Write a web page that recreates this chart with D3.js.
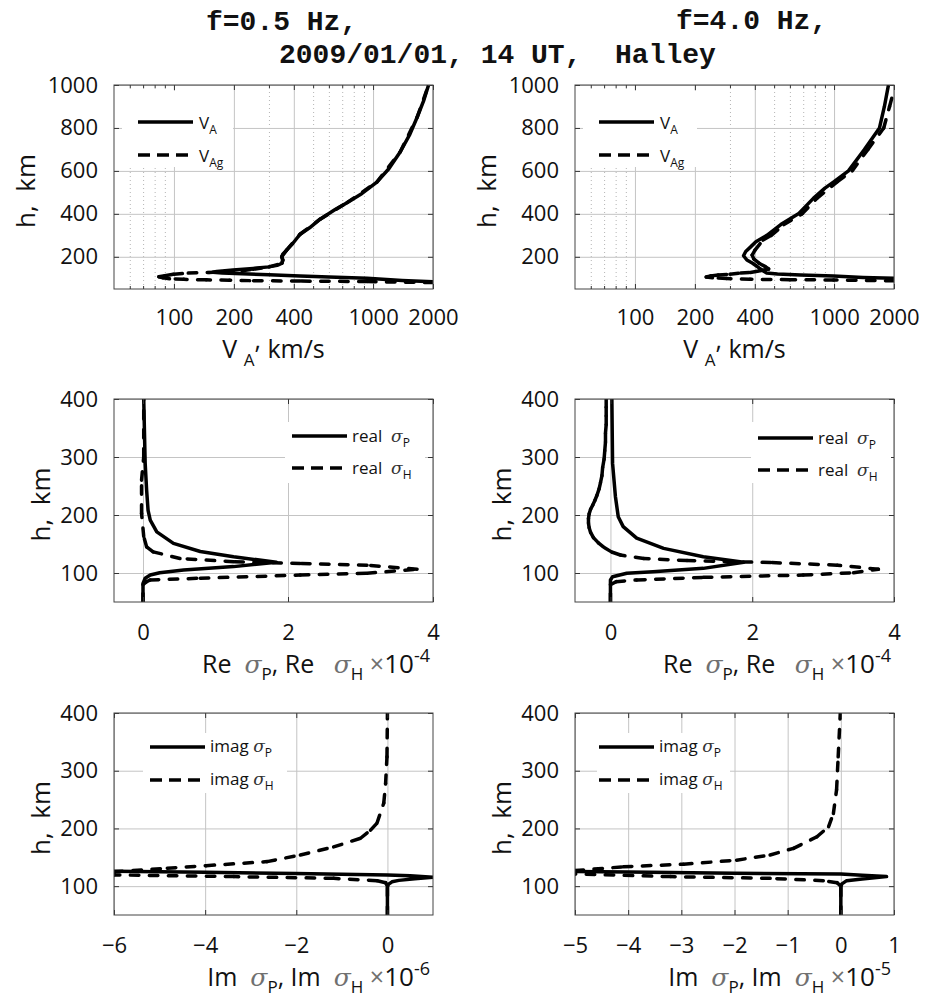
<!DOCTYPE html>
<html>
<head>
<meta charset="utf-8">
<script src="https://cdn.jsdelivr.net/npm/d3@7"></script>
<style>
body { margin: 0; background: #fff; }
svg text { font-family: "Open Sans", sans-serif; fill: #111; white-space: pre; }
.sig { font-family: "DejaVu Serif", serif; font-style: italic; }
</style>
</head>
<body>
<script>
// profiles as [value, h in km]
// top row: Alfven velocity, km/s
var vA_05  = [[2000,84],[1400,90],[934,100],[600,106],[430,110],[300,116],[220,121],[175,124],[157,128],[164,132],[198,138],[250,146],[300,153],[330,160],[349,170],[352,185],[348,200],[352,212],[368,231],[395,262],[430,305],[480,335],[542,375],[645,420],[740,452],[880,495],[1045,548],[1200,610],[1368,688],[1530,770],[1667,851],[1800,930],[1900,1000]];
var vAg_05 = [[2000,80],[934,84.5],[430,87],[240,89],[190,91],[145,92.5],[112,95],[95,98],[88,102],[84,107],[90,112],[100,119],[118,124],[150,127],[180,130],[220,135],[250,142],[300,153],[349,170],[352,185],[348,200],[368,231],[430,305],[542,375],[740,452],[1045,548],[1368,688],[1667,851],[1900,1000]];
var vA_4   = [[2000,100],[1400,104],[994,110],[680,115],[520,120],[459,124],[440,135],[420,148],[390,170],[365,185],[351,205],[360,225],[380,245],[405,270],[460,300],[540,350],[662,400],[787,472],[900,520],[1000,550],[1181,600],[1420,700],[1691,800],[1790,900],[1876,1000]];
var vAg_4  = [[2000,88],[994,92],[600,93.5],[378,95],[289,99],[245,102],[228,106],[240,111],[262,115],[300,119],[340,124],[380,127],[425,135],[470,143],[450,155],[420,170],[395,190],[388,208],[400,230],[440,278],[484,300],[560,350],[691,400],[820,472],[1040,550],[1233,600],[1480,700],[1776,800],[1900,900],[2000,977]];

// middle row: real parts, x1e-4
var reSP_05 = [[0,50],[0,82],[0.03,91],[0.1,96.5],[0.23,100.5],[0.56,105],[1.25,111],[1.84,118.5],[1.25,128],[0.79,137],[0.42,151],[0.19,171],[0.1,191],[0.07,208],[0.05,243],[0.03,289],[0.01,400]];
var reSH_05 = [[0,50],[0,80],[0.05,85],[0.1,88],[0.79,91],[2.17,96.5],[3.09,99.5],[3.78,106.5],[3.09,113.5],[2.17,116.5],[1.25,119.5],[0.51,125],[0.14,136.5],[0.05,145],[0.01,163],[-0.02,203],[-0.02,260],[0.01,300],[0.01,400]];
var reSP_4  = [[0,50],[0,88],[0.03,93.5],[0.23,99.5],[0.6,102],[1.31,108],[1.88,118.5],[1.31,128],[0.75,142.5],[0.37,160],[0.18,180],[0.11,197],[0.07,232],[0.03,289],[0.02,400]];
var reSH_4  = [[0,50],[0,80],[0.08,85],[0.37,88],[1.31,92.5],[2.72,96.5],[3.43,100.5],[3.78,106.5],[3.2,113.5],[2.26,118],[1.08,121.5],[0.47,125],[0.14,131],[0.02,136],[-0.1,145],[-0.17,152],[-0.24,161],[-0.28,170],[-0.3,178],[-0.31,186],[-0.31,194],[-0.3,202],[-0.28,210],[-0.25,217],[-0.22,225],[-0.19,234],[-0.16,245],[-0.14,256],[-0.12,268],[-0.11,282],[-0.09,296],[-0.08,311],[-0.07,326],[-0.07,341],[-0.06,356],[-0.06,371],[-0.06,386],[-0.06,400]];

// bottom row: imaginary parts, x1e-6 (f=0.5) and x1e-5 (f=4.0)
var imSP_05 = [[0,50],[0,98],[0.02,103],[0.1,107.5],[0.25,110],[0.6,113],[1.0,115.5],[0.5,117.8],[0,119.5],[-2,122],[-4,124],[-6,126]];
var imSH_05 = [[0,50],[0,100],[-0.04,106],[-0.23,109.5],[-1.18,113.5],[-3.37,116.5],[-6,119.5],[-6,125],[-4.83,131],[-3.98,135.5],[-2.64,142.5],[-1.91,154],[-1.18,168],[-0.59,183],[-0.37,197],[-0.23,209],[-0.08,244],[-0.04,278],[-0.01,324],[0,400]];
var imSP_4  = [[0,50],[0,99],[0.02,104],[0.11,109.5],[0.4,112.5],[0.86,116.5],[0.4,119],[0,121],[-2,122.5],[-4,124.5],[-5,125.5]];
var imSH_4  = [[0,50],[0,100],[-0.07,106],[-0.33,109.5],[-1.33,113.5],[-3.2,116.5],[-5,121],[-5,127],[-4.09,133.5],[-2.96,138],[-1.96,145],[-1.33,154],[-0.89,165.5],[-0.45,185.5],[-0.23,203],[-0.14,226],[-0.08,267],[-0.05,324],[-0.01,400]];

// ticks and texts
var vTicks   = [100, 200, 400, 1000, 2000];
var vMinor   = [60, 70, 80, 90, 300, 500, 600, 700, 800, 900];
var hTicksV  = [200, 400, 600, 800, 1000];
var hTicks   = [100, 200, 300, 400];
var reTicks  = [0, 2, 4];
var imTicks05 = [-6, -4, -2, 0];
var imTicks4  = [-5, -4, -3, -2, -1, 0, 1];
var titleLeft  = "f=0.5 Hz,";
var titleRight = "f=4.0 Hz,";
var titleDate  = "2009/01/01, 14 UT,  Halley";

var svg = d3.select("body").append("svg").attr("width", 926).attr("height", 1000);

var colX = [[114, 433], [575, 894]];
var rowY = [[85, 289], [399, 602], [713, 915]];

var legV  = [{main: "V", sub: "A"}, {main: "V", sub: "Ag"}];
var legRe = [{main: "real  ", sig: 1, sub: "P"}, {main: "real  ", sig: 1, sub: "H"}];
var legIm = [{main: "imag ", sig: 1, sub: "P"}, {main: "imag ", sig: 1, sub: "H"}];

var panels = [
  {c: 0, r: 0, x: d3.scaleLog().domain([50, 2000]), yd: [50, 1000], xt: vTicks, yt: hTicksV, minor: vMinor,
   s: [vA_05, vAg_05], leg: legV, box: [8, 6, 111, 76], lx: [24, 79], ly: [37, 70], tx: 85, tdy: 7, lab: "v"},
  {c: 1, r: 0, x: d3.scaleLog().domain([50, 2000]), yd: [50, 1000], xt: vTicks, yt: hTicksV, minor: vMinor,
   s: [vA_4, vAg_4], leg: legV, box: [8, 6, 114, 76], lx: [24, 79], ly: [37, 70], tx: 85, tdy: 7, lab: "v"},
  {c: 0, r: 1, x: d3.scaleLinear().domain([-0.4, 4]), yd: [50, 400], xt: reTicks, yt: hTicks,
   s: [reSP_05, reSH_05], leg: legRe, box: [171, 23, 140, 61], lx: [178, 233], ly: [37, 69], tx: 238, tdy: 6, lab: "Re", gap: "   ", ex: "-4"},
  {c: 1, r: 1, x: d3.scaleLinear().domain([-0.5, 4]), yd: [50, 400], xt: reTicks, yt: hTicks,
   s: [reSP_4, reSH_4], leg: legRe, box: [176, 23, 140, 61], lx: [183, 238], ly: [39, 71], tx: 243, tdy: 6, lab: "Re", gap: "   ", ex: "-4"},
  {c: 0, r: 2, x: d3.scaleLinear().domain([-6, 1]), yd: [50, 400], xt: imTicks05, yt: hTicks,
   s: [imSP_05, imSH_05], leg: legIm, box: [29, 20, 144, 60], lx: [36, 91], ly: [34, 67], tx: 96, tdy: 5, lab: "Im", gap: "  ", ex: "-6"},
  {c: 1, r: 2, x: d3.scaleLinear().domain([-5, 1]), yd: [50, 400], xt: imTicks4, yt: hTicks,
   s: [imSP_4, imSH_4], leg: legIm, box: [22, 20, 133, 60], lx: [24, 79], ly: [34, 67], tx: 84, tdy: 5, lab: "Im", gap: "  ", ex: "-5"}
];

function styleAxis(g) {
  g.select(".domain").remove();
  g.selectAll(".tick line").attr("stroke", "#333").attr("stroke-width", 1);
}

panels.forEach(function(p, i) {
  var x0 = colX[p.c][0], x1 = colX[p.c][1], y0 = rowY[p.r][0], y1 = rowY[p.r][1];
  var x = p.x.range([x0, x1]);
  var y = d3.scaleLinear().domain(p.yd).range([y1, y0]);
  var g = svg.append("g");

  // grid
  if (p.minor) {
    g.append("g").attr("transform", "translate(0," + y1 + ")")
      .call(d3.axisBottom(x).tickValues(p.minor).tickSize(-(y1 - y0)).tickFormat(""))
      .call(styleAxis)
      .selectAll(".tick line").attr("stroke", "#b4b4b4").attr("stroke-dasharray", "1,3");
  }
  g.append("g").attr("transform", "translate(0," + y1 + ")")
    .call(d3.axisBottom(x).tickValues(p.xt).tickSize(-(y1 - y0)).tickFormat(""))
    .call(styleAxis)
    .selectAll(".tick line").attr("stroke", "#c4c4c4");
  g.append("g").attr("transform", "translate(" + x0 + ",0)")
    .call(d3.axisLeft(y).tickValues(p.yt).tickSize(-(x1 - x0)).tickFormat(""))
    .call(styleAxis)
    .selectAll(".tick line").attr("stroke", "#c4c4c4");

  // curves
  svg.append("clipPath").attr("id", "clip" + i).append("rect")
    .attr("x", x0).attr("y", y0).attr("width", x1 - x0).attr("height", y1 - y0);
  var cg = g.append("g").attr("clip-path", "url(#clip" + i + ")");
  cg.append("path").datum(p.s[0])
    .attr("d", d3.line().x(function(d) { return x(d[0]); }).y(function(d) { return y(d[1]); }))
    .attr("fill", "none").attr("stroke", "#000").attr("stroke-width", 3.5)
    .attr("stroke-linejoin", "round");
  // dashed: pattern restarts on each segment
  cg.selectAll(null).data(d3.pairs(p.s[1])).enter().append("line")
    .attr("x1", function(d) { return x(d[0][0]); }).attr("y1", function(d) { return y(d[0][1]); })
    .attr("x2", function(d) { return x(d[1][0]); }).attr("y2", function(d) { return y(d[1][1]); })
    .attr("stroke", "#000").attr("stroke-width", 3.5)
    .attr("stroke-linecap", "round").attr("stroke-dasharray", "8.5,10.5");

  // axes
  var pad = p.r === 0 ? 20 : 22;
  var bx = g.append("g").attr("transform", "translate(0," + y1 + ")")
    .call(d3.axisBottom(x).tickValues(p.xt).tickSizeInner(-5).tickSizeOuter(0).tickPadding(pad)
      .tickFormat(d3.format("d")))
    .call(styleAxis);
  bx.selectAll("text").style("font-size", "22px").attr("fill", "#111");
  g.append("g").attr("transform", "translate(0," + y0 + ")")
    .call(d3.axisTop(x).tickValues(p.xt).tickSizeInner(-5).tickSizeOuter(0).tickFormat(""))
    .call(styleAxis);
  if (p.minor) {
    g.append("g").attr("transform", "translate(0," + y1 + ")")
      .call(d3.axisBottom(x).tickValues(p.minor).tickSize(-3).tickFormat("")).call(styleAxis);
    g.append("g").attr("transform", "translate(0," + y0 + ")")
      .call(d3.axisTop(x).tickValues(p.minor).tickSize(-3).tickFormat("")).call(styleAxis);
  }
  var ly = g.append("g").attr("transform", "translate(" + x0 + ",0)")
    .call(d3.axisLeft(y).tickValues(p.yt).tickSizeInner(-5).tickSizeOuter(0).tickPadding(16)
      .tickFormat(d3.format("d")))
    .call(styleAxis);
  ly.selectAll("text").style("font-size", "22px").attr("fill", "#111");
  g.append("g").attr("transform", "translate(" + x1 + ",0)")
    .call(d3.axisRight(y).tickValues(p.yt).tickSizeInner(-5).tickSizeOuter(0).tickFormat(""))
    .call(styleAxis);
  g.append("rect").attr("x", x0).attr("y", y0).attr("width", x1 - x0).attr("height", y1 - y0)
    .attr("fill", "none").attr("stroke", "#444").attr("stroke-width", 1);

  // y label
  var yl = p.r === 0 ? x0 - 79 : x0 - 64;
  g.append("text").attr("transform", "translate(" + yl + "," + ((y0 + y1) / 2 + 4) + ") rotate(-90)")
    .attr("text-anchor", "middle").style("font-size", "26px").text("h,  km");

  // x label
  if (p.lab === "v") {
    var t = g.append("text").attr("x", (x0 + x1) / 2).attr("y", y1 + 69)
      .attr("text-anchor", "middle").style("font-size", "25px");
    t.append("tspan").text("V ");
    t.append("tspan").attr("dy", 8).style("font-size", "17px").text("A");
    t.append("tspan").attr("dy", -17).text(",");
    t.append("tspan").attr("dy", 9).text(" km/s");
  } else {
    var t2 = g.append("text").attr("x", x1 - 3).attr("y", y1 + 71)
      .attr("text-anchor", "end").style("font-size", "25px");
    t2.append("tspan").text(p.lab + "  ");
    t2.append("tspan").attr("class", "sig").attr("fill", "#707070").text("σ");
    t2.append("tspan").attr("dy", 7).style("font-size", "17px").text("P");
    t2.append("tspan").attr("dy", -7).text(", " + p.lab + p.gap);
    t2.append("tspan").attr("class", "sig").attr("fill", "#707070").text("σ");
    t2.append("tspan").attr("dy", 7).style("font-size", "17px").text("H");
    t2.append("tspan").attr("dy", -7).attr("fill", "#707070").text(" ×");
    t2.append("tspan").style("font-size", "26px").text("10");
    t2.append("tspan").attr("dy", -11).style("font-size", "18px").text(p.ex);
  }

  // legend
  var lg = g.append("g").attr("transform", "translate(" + x0 + "," + y0 + ")");
  lg.append("rect").attr("x", p.box[0]).attr("y", p.box[1]).attr("width", p.box[2]).attr("height", p.box[3])
    .attr("fill", "#fff");
  p.leg.forEach(function(e, k) {
    var yy = p.ly[k];
    var ln = lg.append("line").attr("x1", p.lx[0]).attr("x2", p.lx[1]).attr("y1", yy).attr("y2", yy)
      .attr("stroke", "#000").attr("stroke-width", 3.5);
    if (k === 1) ln.attr("stroke-dasharray", "12,7");
    var tt = lg.append("text").attr("x", p.tx).attr("y", yy + p.tdy).style("font-size", "17px");
    tt.append("tspan").text(e.main);
    if (e.sig) tt.append("tspan").attr("class", "sig").attr("fill", "#333").text("σ");
    tt.append("tspan").attr("dy", 5).style("font-size", "12px").text(e.sub);
  });
});

// titles
var tf = function(s, x, y) {
  svg.append("text").attr("x", x).attr("y", y)
    .style("font-family", "'Liberation Mono', monospace").style("font-weight", "bold")
    .style("font-size", "28px").text(s);
};
tf(titleLeft, 206, 30);
tf(titleRight, 676, 29);
tf(titleDate, 279, 63);
</script>
</body>
</html>
